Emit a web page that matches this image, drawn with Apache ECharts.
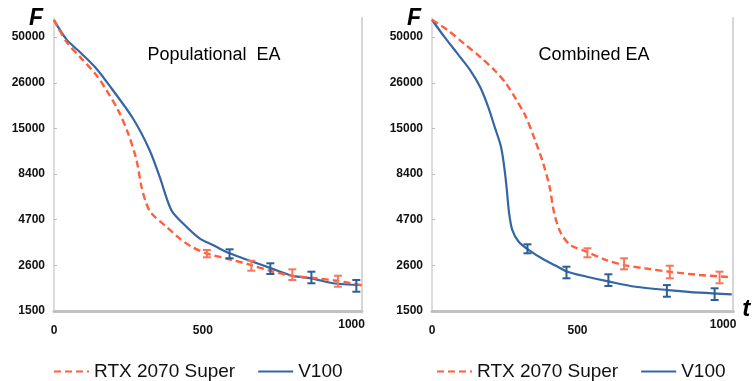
<!DOCTYPE html>
<html>
<head>
<meta charset="utf-8">
<script src="https://cdn.jsdelivr.net/npm/echarts@6/dist/echarts.min.js"></script>
<style>
  html, body { margin: 0; padding: 0; background: #fff; }
  #chart { width: 753px; height: 381px; }
</style>
</head>
<body>
<div id="chart"></div>
<script>
// y axis is drawn on a log scale whose ticks are the labels below, evenly spaced
const yTickLabels = ['1500', '2600', '4700', '8400', '15000', '26000', '50000'];
const xTickLabels = [0, 500, 1000];
const seriesNames = ['RTX 2070 Super', 'V100'];

// Populational EA
const popRtxT = [0, 42, 92, 142, 176, 215, 249, 277, 294, 310, 327, 378, 422, 462, 512, 601, 663, 736, 803, 881, 949, 1033];
const popRtxF = [62200, 47100, 38100, 30800, 25400, 19700, 14600, 10400, 7370, 5960, 5240, 4410, 3800, 3420, 3140, 2880, 2700, 2480, 2350, 2280, 2210, 2090];
const popV100T = [0, 42, 92, 142, 193, 265, 321, 355, 394, 433, 489, 534, 590, 668, 730, 803, 865, 937, 1033];
const popV100F = [62200, 48600, 40600, 33500, 26000, 17700, 11800, 8370, 5470, 4610, 3800, 3490, 3140, 2820, 2590, 2350, 2280, 2140, 2090];
const popRtxErrT = [514, 663, 801, 954];
const popRtxErrLo = [2983, 2513, 2231, 2047];
const popRtxErrHi = [3275, 2856, 2558, 2357];
const popV100ErrT = [590, 727, 865, 1016];
const popV100ErrLo = [2945, 2409, 2139, 1920];
const popV100ErrHi = [3305, 2763, 2481, 2231];

// Combined EA
const comRtxT = [0, 53, 109, 165, 220, 254, 287, 320, 354, 382, 404, 420, 443, 476, 532, 599, 660, 732, 815, 921, 1030];
const comRtxF = [62500, 54800, 46200, 38900, 32100, 27700, 22800, 18400, 13400, 9940, 7370, 5240, 4060, 3490, 3200, 2880, 2700, 2590, 2480, 2378, 2310];
const comV100T = [0, 42, 87, 131, 165, 193, 215, 237, 248, 256, 265, 276, 298, 329, 387, 432, 465, 532, 610, 699, 810, 921, 1030];
const comV100F = [62500, 50300, 40600, 32800, 26500, 20500, 15900, 12300, 9520, 7370, 5240, 4230, 3640, 3305, 2880, 2645, 2480, 2327, 2183, 2047, 1962, 1896, 1857];
const comRtxErrT = [534, 660, 817, 988];
const comRtxErrLo = [2983, 2558, 2280, 2139];
const comRtxErrHi = [3348, 2945, 2679, 2481];
const comV100ErrT = [328, 462, 606, 807, 971];
const comV100ErrLo = [3140, 2280, 2066, 1801, 1727];
const comV100ErrHi = [3523, 2645, 2400, 2090, 2006];

const RED = '#ff5f3c';
const RED_ERR = '#f5765a';
const BLUE = '#3466a4';
const BLUE_ERR = '#2c5e99';

const F0 = +yTickLabels[0];
const STEP = Math.pow(+yTickLabels[yTickLabels.length - 1] / F0, 1 / (yTickLabels.length - 1));
const toU = (f) => Math.log(f / F0) / Math.log(STEP);

function lineSeries(name, ts, fs, axis, color, dashed) {
  return {
    name, type: 'line', xAxisIndex: axis, yAxisIndex: axis * 2,
    data: ts.map((t, i) => [t, toU(fs[i])]),
    showSymbol: false, symbol: 'none', smooth: 0.3,
    lineStyle: { color, width: dashed ? 2.4 : 2.2, type: dashed ? [7, 4] : 'solid' },
    itemStyle: { color },
    z: dashed ? 3 : 2,
  };
}

function errSeries(ts, lo, hi, axis, color) {
  return {
    type: 'custom', xAxisIndex: axis, yAxisIndex: axis * 2, z: 5,
    data: ts.map((t, i) => [t, toU(lo[i]), toU(hi[i])]),
    renderItem(params, api) {
      const a = api.coord([api.value(0), api.value(1)]);
      const b = api.coord([api.value(0), api.value(2)]);
      const w = 4;
      const st = { stroke: color, lineWidth: 2 };
      return {
        type: 'group',
        children: [
          { type: 'line', shape: { x1: a[0], y1: a[1], x2: b[0], y2: b[1] }, style: st },
          { type: 'line', shape: { x1: a[0] - w, y1: a[1], x2: a[0] + w, y2: a[1] }, style: st },
          { type: 'line', shape: { x1: b[0] - w, y1: b[1], x2: b[0] + w, y2: b[1] }, style: st },
        ],
      };
    },
  };
}

const grids = [
  { left: 54, top: 18, width: 308, height: 293 },
  { left: 432, top: 18, width: 310, height: 293 },
];

const labelFont = { fontFamily: 'Liberation Sans, Arial, sans-serif', fontWeight: 'bold', fontSize: 12, color: '#111' };

const xAxes = grids.map((g, i) => ({
  type: 'value', gridIndex: i, min: 0, max: 1035, interval: 500,
  name: i === 1 ? 't' : '', nameLocation: 'end', nameGap: 1,
  nameTextStyle: { fontFamily: 'Liberation Sans, Arial', fontWeight: 'bold', fontStyle: 'italic', fontSize: 24, color: '#000', verticalAlign: 'bottom', padding: [0, 0, -10, 0] },
  splitLine: { show: false },
  axisTick: { show: false },
  axisLine: { lineStyle: { color: '#c2c2c2', width: 3 } },
  axisLabel: {
    ...labelFont, margin: 20, verticalAlign: 'middle', showMaxLabel: false,
    formatter: (v) => xTickLabels.includes(v) ? (v === 1000 ? '{hi|' + v + '}' : '{n|' + v + '}') : '',
    rich: { n: { ...labelFont }, hi: { ...labelFont, padding: [0, 0, 12, 0] } },
  },
}));

const yAxes = [];
grids.forEach((g, i) => {
  yAxes.push({
    type: 'value', gridIndex: i, min: 0, max: 6.42, interval: 1,
    name: 'F', nameLocation: 'end', nameGap: -12,
    nameTextStyle: { fontFamily: 'Liberation Sans, Arial', fontWeight: 'bold', fontStyle: 'italic', fontSize: 23, color: '#000', align: 'right', verticalAlign: 'bottom', padding: [0, 11, 0, 0] },
    splitLine: { show: false },
    axisLine: { show: true, lineStyle: { color: '#d0d0d0', width: 1.5 } },
    axisTick: { show: true, inside: true, length: 3, lineStyle: { color: '#bbb' } },
    axisLabel: { ...labelFont, margin: 9, showMaxLabel: false, formatter: (v) => yTickLabels[v] || '' },
  });
  // right border of the plot box
  yAxes.push({
    type: 'value', gridIndex: i, position: 'right', min: 0, max: 6.42,
    splitLine: { show: false }, axisTick: { show: false }, axisLabel: { show: false },
    axisLine: { show: true, lineStyle: { color: '#d6d6d6', width: 2 } },
  });
});

const legendBase = {
  top: 357, itemWidth: 35, itemHeight: 14, itemGap: 22,
  itemStyle: { opacity: 0 },
  textStyle: { fontFamily: 'Liberation Sans, Arial, sans-serif', fontSize: 19, color: '#111' },
  data: seriesNames,
};

const chart = echarts.init(document.getElementById('chart'), null, { renderer: 'canvas' });
chart.setOption({
  backgroundColor: '#fff',
  animation: false,
  title: [
    { text: 'Populational  EA', left: 209, top: 41, textAlign: 'center', textStyle: { fontFamily: 'Liberation Sans, Arial', fontSize: 18, fontWeight: 'normal', color: '#000' } },
    { text: 'Combined EA', left: 589, top: 41, textAlign: 'center', textStyle: { fontFamily: 'Liberation Sans, Arial', fontSize: 18, fontWeight: 'normal', color: '#000' } },
  ],
  legend: [
    { ...legendBase, left: 48 },
    { ...legendBase, left: 431 },
  ],
  grid: grids,
  xAxis: xAxes,
  yAxis: yAxes,
  series: [
    lineSeries(seriesNames[0], popRtxT, popRtxF, 0, RED, true),
    lineSeries(seriesNames[1], popV100T, popV100F, 0, BLUE, false),
    errSeries(popRtxErrT, popRtxErrLo, popRtxErrHi, 0, RED_ERR),
    errSeries(popV100ErrT, popV100ErrLo, popV100ErrHi, 0, BLUE_ERR),
    lineSeries(seriesNames[0], comRtxT, comRtxF, 1, RED, true),
    lineSeries(seriesNames[1], comV100T, comV100F, 1, BLUE, false),
    errSeries(comRtxErrT, comRtxErrLo, comRtxErrHi, 1, RED_ERR),
    errSeries(comV100ErrT, comV100ErrLo, comV100ErrHi, 1, BLUE_ERR),
  ],
});
</script>
</body>
</html>
